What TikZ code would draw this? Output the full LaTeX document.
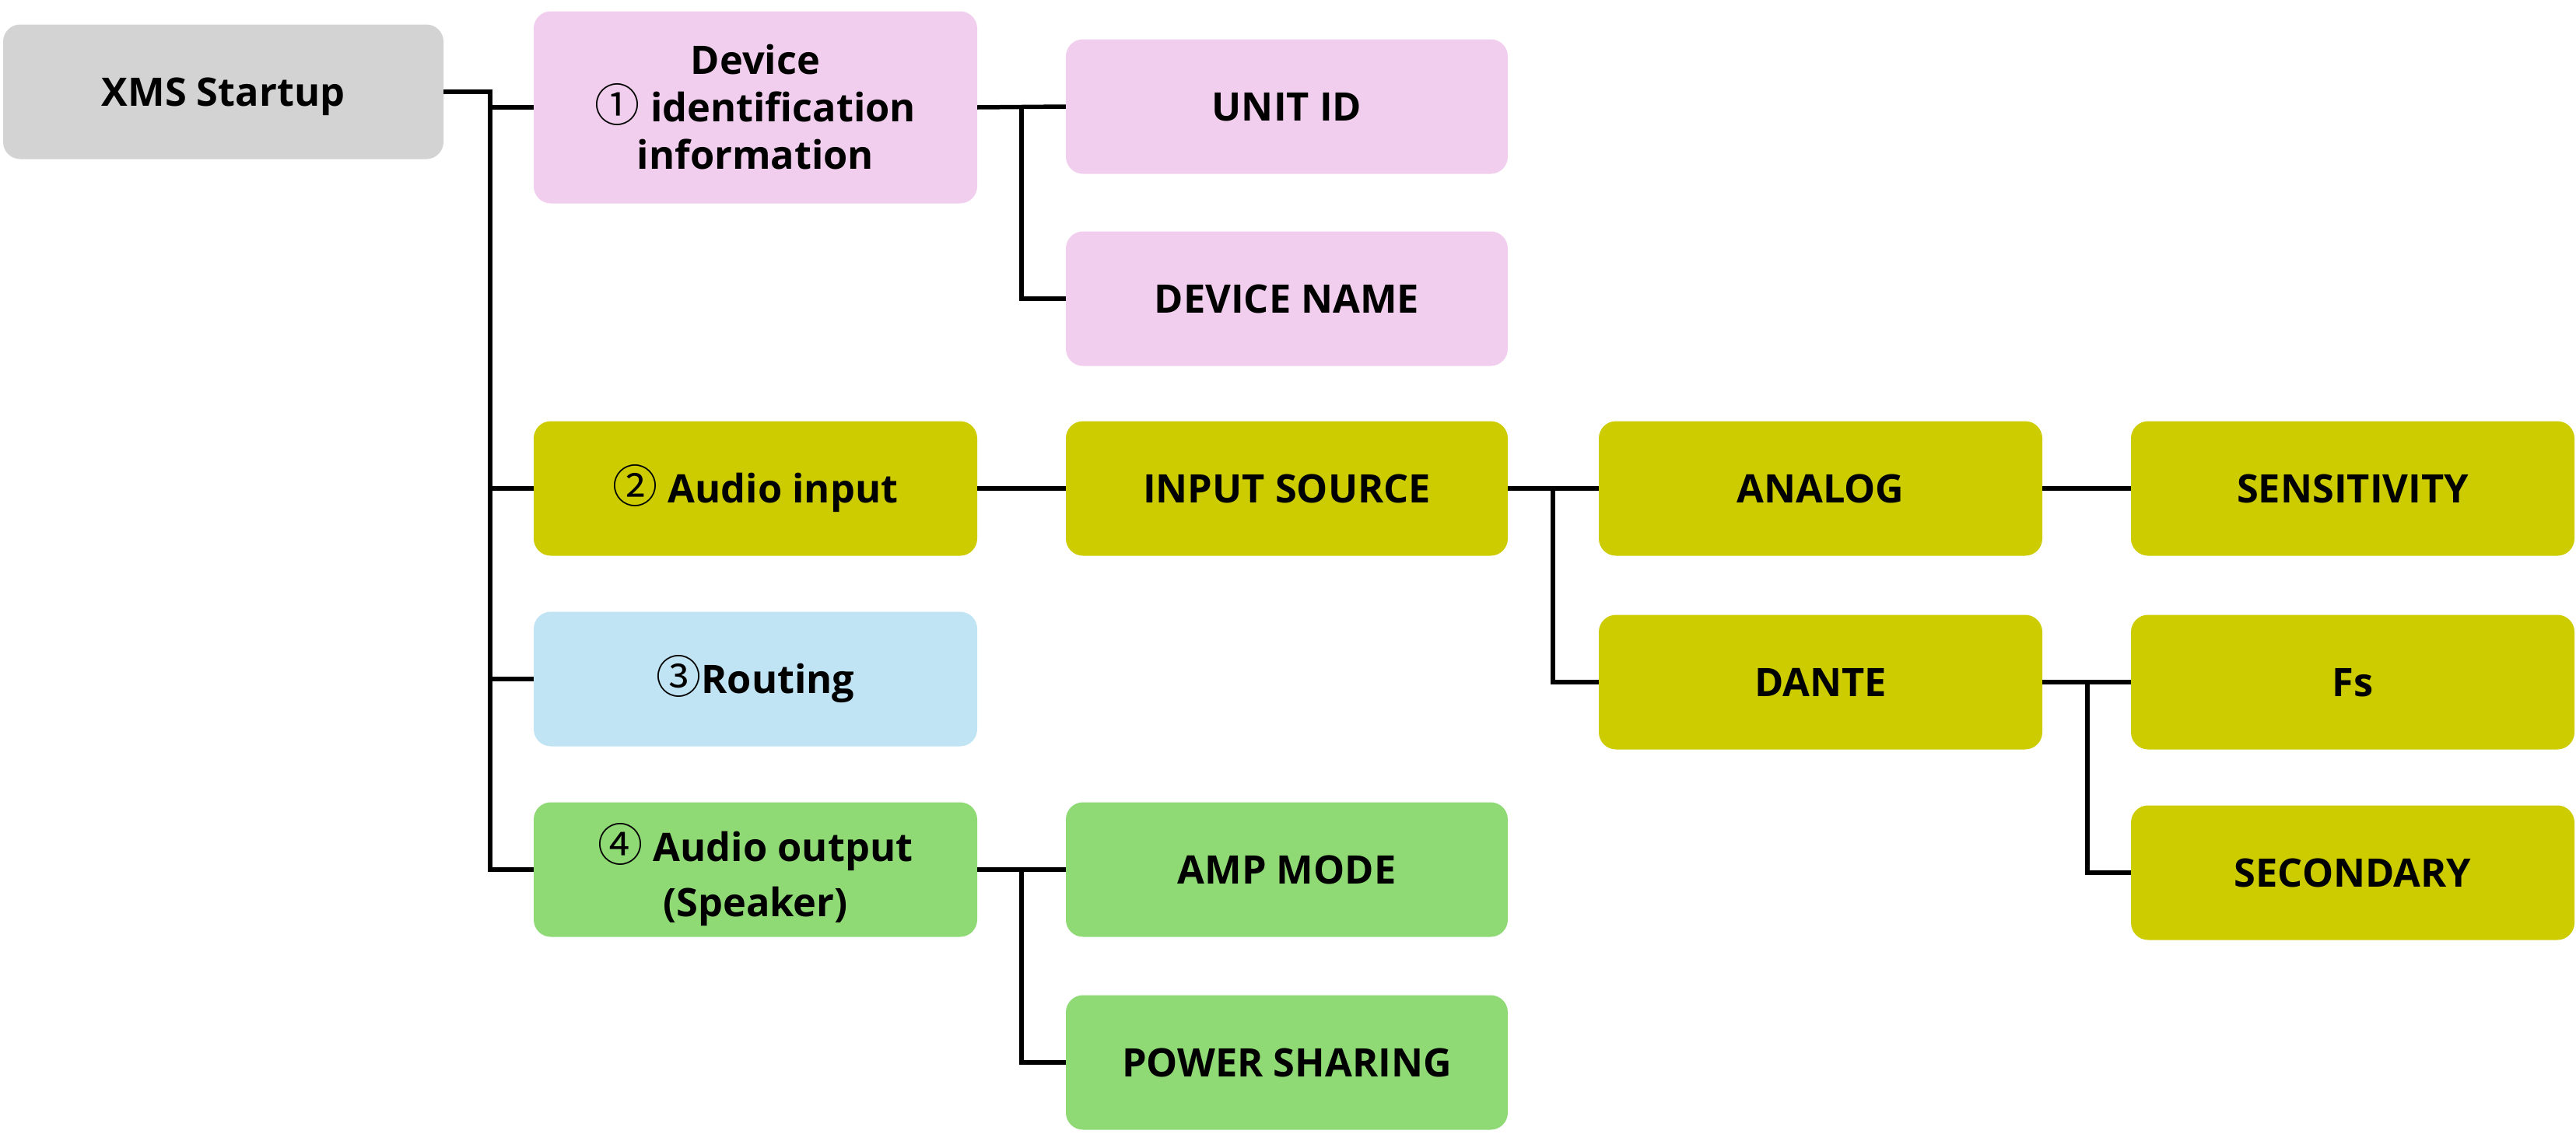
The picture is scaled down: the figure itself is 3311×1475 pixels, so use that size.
\documentclass[tikz,border=0pt]{standalone}
\usepackage{fontspec}
\IfFontExistsTF{Open Sans Bold}{\setmainfont{Open Sans}[BoldFont={Open Sans Bold}]}{\setmainfont{Noto Sans}[AutoFakeBold=2.5]}
\newfontfamily\circfont{Noto Sans CJK JP}
\definecolor{cgrey}{HTML}{D3D3D3}
\definecolor{cpink}{HTML}{F2CEEE}
\definecolor{colive}{HTML}{CCCC00}
\definecolor{cblue}{HTML}{C0E4F4}
\definecolor{cgreen}{HTML}{90DA76}
\newcommand{\circd}[1]{{\circfont\mdseries\fontsize{58}{58}\selectfont #1}}
\begin{document}
\begin{tikzpicture}[x=1pt,y=-1pt,
  box/.style={rounded corners=22pt, minimum width=568pt, minimum height=173pt, inner sep=0pt,
    align=center, font=\fontsize{50.5}{61}\selectfont\bfseries},
  single/.style={text height=36pt, text depth=0pt},
  conn/.style={line width=5.5pt, draw=black}]
\useasboundingbox (0,0) rectangle (3311,1475);
\node[box, single, fill=cgrey, minimum width=566pt] (xms) at (287,118) {XMS Startup};
\node[box, fill=cpink, minimum width=570pt, minimum height=247pt] (dev) at (971,138) {Device\\\circd{①} identification\\information};
\node[box, single, fill=cpink] (unit) at (1654,137) {UNIT ID};
\node[box, single, fill=cpink] (dname) at (1654,384) {DEVICE NAME};
\node[box, single, fill=colive, minimum width=570pt] (ain) at (971,628) {\circd{②} Audio input};
\node[box, single, fill=colive] (insrc) at (1654,628) {INPUT SOURCE};
\node[box, single, fill=cblue, minimum width=570pt] (rout) at (971,873) {\circd{③}Routing};
\node[box, fill=cgreen, minimum width=570pt, text depth=0pt] (aout) at (971,1118) {\circd{④} Audio output\\[10pt](Speaker)};
\node[box, single, fill=cgreen] (amp) at (1654,1118) {AMP MODE};
\node[box, single, fill=cgreen] (pwr) at (1654,1366) {POWER SHARING};
\node[box, single, fill=colive, minimum width=570pt] (analog) at (2340,628) {ANALOG};
\node[box, single, fill=colive, minimum width=570pt] (dante) at (2340,877) {DANTE};
\node[box, single, fill=colive, minimum width=570pt] (sens) at (3024,628) {SENSITIVITY};
\node[box, single, fill=colive, minimum width=570pt] (fs) at (3024,877) {Fs};
\node[box, single, fill=colive, minimum width=570pt] (sec) at (3024,1122) {SECONDARY};
% trunk from XMS Startup
\coordinate (j0) at ([xshift=60pt]xms.east);
\draw[conn] (xms.east) -- (j0) |- (aout.west);
\draw[conn] (dev.west) -- (dev.west -| j0);
\draw[conn] (ain.west) -- (ain.west -| j0);
\draw[conn] (rout.west) -- (rout.west -| j0);
% device identification
\coordinate (j1) at ([xshift=57pt]dev.east);
\draw[conn] (dev.east) -- (unit.west);
\draw[conn] (j1) |- (dname.west);
% audio input
\draw[conn] (ain.east) -- (insrc.west);
\coordinate (j2) at ([xshift=58pt]insrc.east);
\draw[conn] (insrc.east) -- (analog.west);
\draw[conn] (j2) |- (dante.west);
\draw[conn] (analog.east) -- (sens.west);
\coordinate (j3) at ([xshift=58pt]dante.east);
\draw[conn] (dante.east) -- (fs.west);
\draw[conn] (j3) |- (sec.west);
% audio output
\coordinate (j4) at ([xshift=57pt]aout.east);
\draw[conn] (aout.east) -- (amp.west);
\draw[conn] (j4) |- (pwr.west);
\end{tikzpicture}
\end{document}
